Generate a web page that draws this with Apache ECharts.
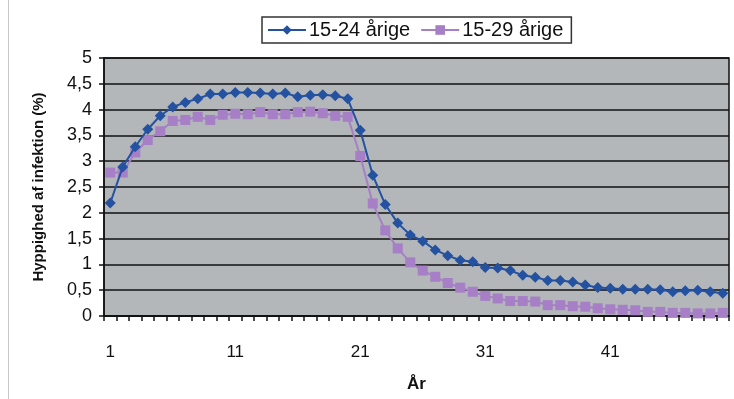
<!DOCTYPE html>
<html>
<head>
<meta charset="utf-8">
<script src="https://cdn.jsdelivr.net/npm/echarts@6/dist/echarts.min.js"></script>
<style>html,body{margin:0;padding:0;background:#fff;}#c{width:734px;height:399px;}</style>
</head>
<body>
<div id="c"></div>
<script>
const years = [];
for (let i = 1; i <= 50; i++) years.push(String(i));
const s1524 = [2.19, 2.89, 3.28, 3.62, 3.88, 4.05, 4.14, 4.21, 4.3, 4.3,
  4.33, 4.33, 4.32, 4.3, 4.32, 4.25, 4.28, 4.29, 4.27, 4.21,
  3.6, 2.73, 2.16, 1.8, 1.57, 1.45, 1.28, 1.17, 1.08, 1.05,
  0.94, 0.93, 0.88, 0.79, 0.75, 0.69, 0.69, 0.66, 0.6, 0.55,
  0.54, 0.52, 0.52, 0.52, 0.51, 0.47, 0.49, 0.5, 0.47, 0.44];
const s1529 = [2.78, 2.78, 3.17, 3.41, 3.58, 3.78, 3.8, 3.86, 3.8, 3.9,
  3.92, 3.91, 3.95, 3.91, 3.91, 3.95, 3.96, 3.93, 3.88, 3.86,
  3.1, 2.18, 1.66, 1.31, 1.04, 0.88, 0.76, 0.64, 0.55, 0.47,
  0.39, 0.34, 0.29, 0.29, 0.28, 0.21, 0.21, 0.19, 0.18, 0.15,
  0.13, 0.12, 0.11, 0.08, 0.08, 0.06, 0.06, 0.05, 0.05, 0.06];
const seriesNames = ['15-24 årige', '15-29 årige'];
const font = 'Liberation Sans, Arial, sans-serif';

const chart = echarts.init(document.getElementById('c'));
chart.setOption({
  animation: false,
  backgroundColor: '#fff',
  graphic: [{type: 'line', shape: {x1: 8.5, y1: 0, x2: 8.5, y2: 399}, style: {stroke: '#c8c8c8', lineWidth: 1}}],
  legend: {
    left: 262, top: 17,
    padding: [3, 8, 3, 5],
    itemWidth: 38, itemHeight: 12, itemGap: 10,
    borderColor: '#333', borderWidth: 1.5, borderRadius: 0,
    backgroundColor: '#fff',
    textStyle: {fontFamily: font, fontSize: 20, color: '#111', padding: [0, 0, 0, -2]},
    data: seriesNames
  },
  grid: {
    left: 104, right: 5, top: 58, bottom: 83,
    show: true, backgroundColor: '#b3b7ba', borderColor: '#111', borderWidth: 1.5
  },
  xAxis: {
    type: 'category', data: years, boundaryGap: true,
    name: 'År', nameLocation: 'middle', nameGap: 60,
    nameTextStyle: {fontFamily: font, fontSize: 17, fontWeight: 'bold', color: '#111'},
    axisLine: {lineStyle: {color: '#111', width: 1.5}},
    axisTick: {show: true, interval: 0, length: 5, lineStyle: {color: '#111', width: 1.5}},
    axisLabel: {interval: 9, margin: 28, fontFamily: font, fontSize: 17, color: '#111'},
    splitLine: {show: false}
  },
  yAxis: {
    type: 'value', min: 0, max: 5, interval: 0.5,
    name: 'Hyppighed af infektion (%)', nameLocation: 'middle', nameGap: 58,
    nameTextStyle: {fontFamily: font, fontSize: 15, fontWeight: 'bold', color: '#111'},
    axisLine: {show: true, lineStyle: {color: '#111', width: 1.5}},
    axisTick: {show: true, length: 5, lineStyle: {color: '#111', width: 1.5}},
    axisLabel: {margin: 12, fontFamily: font, fontSize: 18, color: '#111',
      formatter: v => String(v).replace('.', ',')},
    splitLine: {show: true, lineStyle: {color: '#111', width: 1.5}}
  },
  series: [
    {name: seriesNames[0], type: 'line', data: s1524, symbol: 'diamond', symbolSize: 11,
      showAllSymbol: true,
      lineStyle: {color: '#2451a0', width: 2}, itemStyle: {color: '#2451a0'}, z: 3},
    {name: seriesNames[1], type: 'line', data: s1529, symbol: 'rect', symbolSize: 10,
      showAllSymbol: true,
      lineStyle: {color: '#a67fc6', width: 2}, itemStyle: {color: '#a67fc6'}, z: 2}
  ]
});
</script>
</body>
</html>
